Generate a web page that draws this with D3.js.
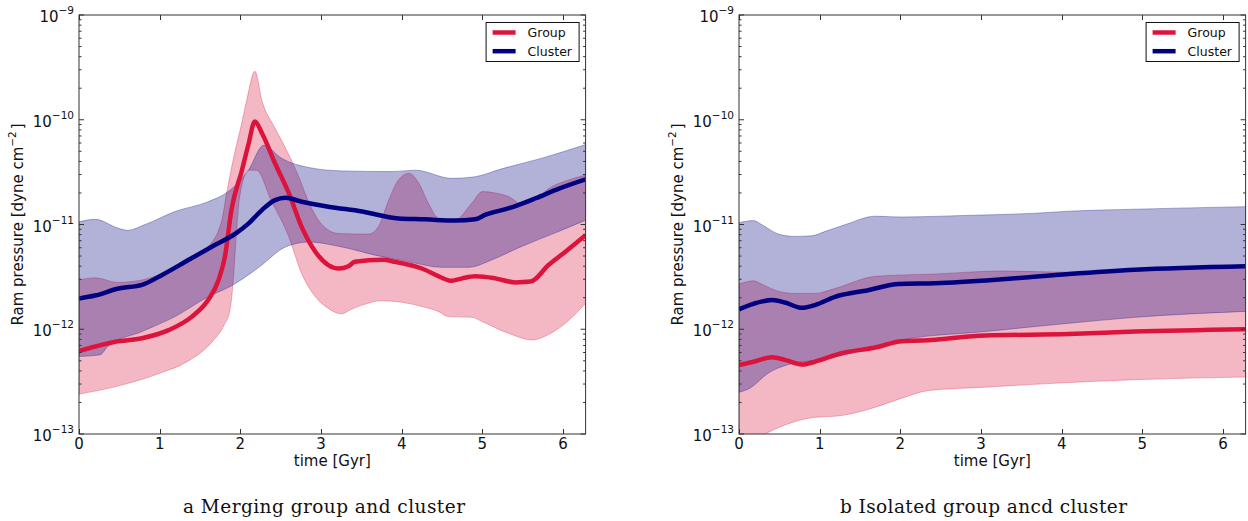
<!DOCTYPE html>
<html>
<head>
<meta charset="utf-8">
<script src="https://cdn.jsdelivr.net/npm/d3@7"></script>
<style>
  html, body { margin: 0; padding: 0; background: #fff; }
  svg { display: block; }
  text { font-family: "DejaVu Sans", sans-serif; fill: #111; }
  .caption { font-family: "DejaVu Serif", serif; }
</style>
</head>
<body>
<svg id="chart" width="1248" height="521"></svg>
<script>
// ---- data: [time in Gyr, ram pressure in dyne cm^-2] ----
// Panel a: merging group and cluster
const mergeGroupMid = [[0,6.2e-13],[0.45,7.6e-13],[0.78,8.2e-13],[1.11,9.8e-13],[1.40,1.32e-12],[1.60,1.9e-12],[1.73,2.95e-12],[1.81,5.0e-12],[1.89,1.38e-11],[2.02,3.3e-11],[2.10,5.8e-11],[2.18,9.6e-11],[2.27,7.4e-11],[2.43,3.84e-11],[2.60,2.0e-11],[2.76,9.5e-12],[2.93,5.5e-12],[3.09,4.1e-12],[3.22,3.8e-12],[3.34,4.0e-12],[3.42,4.4e-12],[3.76,4.6e-12],[3.92,4.4e-12],[4.25,3.8e-12],[4.46,3.2e-12],[4.62,2.9e-12],[4.75,3.06e-12],[4.91,3.2e-12],[5.16,3.06e-12],[5.41,2.8e-12],[5.60,2.85e-12],[5.82,4.1e-12],[6.03,5.5e-12],[6.28,7.9e-12]];
const mergeGroupLo = [[0,2.4e-13],[0.47,2.85e-13],[1.0,3.8e-13],[1.34,4.9e-13],[1.67,7.9e-13],[1.80,1.1e-12],[1.87,1.5e-12],[1.91,2.8e-12],[1.94,6.0e-12],[1.99,1.8e-11],[2.10,3.3e-11],[2.20,3.3e-11],[2.38,1.71e-11],[2.60,7.65e-12],[2.76,3.4e-12],[2.93,2.04e-12],[3.09,1.58e-12],[3.26,1.4e-12],[3.34,1.5e-12],[3.51,1.7e-12],[3.76,1.87e-12],[4.25,1.65e-12],[4.46,1.47e-12],[4.58,1.32e-12],[4.87,1.3e-12],[5.0,1.18e-12],[5.33,9.1e-13],[5.62,7.9e-13],[5.82,8.9e-13],[6.03,1.14e-12],[6.28,1.77e-12]];
const mergeGroupHi = [[0,2.95e-12],[0.2,3.1e-12],[0.48,2.8e-12],[0.78,2.95e-12],[1.03,3.4e-12],[1.4,4.6e-12],[1.6,6.1e-12],[1.77,1.1e-11],[1.83,2.0e-11],[1.91,4.1e-11],[2.02,9.5e-11],[2.08,1.55e-10],[2.18,2.9e-10],[2.27,1.5e-10],[2.42,8.6e-11],[2.58,5.0e-11],[2.72,2.9e-11],[2.87,1.5e-11],[3.01,1.0e-11],[3.22,8.2e-12],[3.59,8.1e-12],[3.71,9.5e-12],[3.84,1.71e-11],[3.96,2.66e-11],[4.09,3.08e-11],[4.21,2.5e-11],[4.33,1.6e-11],[4.46,1.14e-11],[4.66,1.1e-11],[4.87,1.6e-11],[5.0,2.06e-11],[5.16,2.0e-11],[5.33,1.84e-11],[5.5,1.55e-11],[5.65,1.7e-11],[5.82,2.2e-11],[6.07,2.66e-11],[6.28,2.97e-11]];
const mergeClusterMid = [[0,1.97e-12],[0.2,2.1e-12],[0.49,2.45e-12],[0.78,2.65e-12],[1.03,3.3e-12],[1.36,4.6e-12],[1.69,6.4e-12],[1.94,8.2e-12],[2.10,1.02e-11],[2.27,1.38e-11],[2.43,1.71e-11],[2.56,1.8e-11],[2.76,1.65e-11],[3.09,1.48e-11],[3.51,1.33e-11],[3.96,1.14e-11],[4.29,1.12e-11],[4.66,1.09e-11],[4.91,1.12e-11],[5.04,1.24e-11],[5.33,1.43e-11],[5.66,1.78e-11],[5.95,2.2e-11],[6.28,2.7e-11]];
const mergeClusterLo = [[0,5.5e-13],[0.26,5.7e-13],[0.36,6.9e-13],[0.78,9.5e-13],[1.19,1.32e-12],[1.60,2.04e-12],[1.89,2.6e-12],[2.23,3.9e-12],[2.56,6.1e-12],[2.85,6.8e-12],[3.26,6.1e-12],[3.67,5.1e-12],[4.09,4.4e-12],[4.5,3.9e-12],[4.83,3.9e-12],[5.12,4.6e-12],[5.45,6.0e-12],[5.95,8.6e-12],[6.28,1.1e-11]];
const mergeClusterHi = [[0,1.06e-11],[0.2,1.12e-11],[0.49,9.2e-12],[0.6,8.8e-12],[0.82,1.0e-11],[1.19,1.33e-11],[1.60,1.65e-11],[1.85,2.06e-11],[2.10,3.3e-11],[2.29,5.7e-11],[2.51,4.3e-11],[2.85,3.5e-11],[3.26,3.25e-11],[3.88,3.2e-11],[4.17,3.3e-11],[4.62,2.76e-11],[4.91,2.86e-11],[5.24,3.4e-11],[5.74,4.3e-11],[6.28,5.8e-11]];

// Panel b: isolated group and cluster
const isoGroupMid = [[0,4.55e-13],[0.18,4.9e-13],[0.41,5.4e-13],[0.57,5.1e-13],[0.78,4.6e-13],[0.94,4.9e-13],[1.27,5.9e-13],[1.69,6.7e-13],[2.02,7.7e-13],[2.27,7.8e-13],[3.05,8.7e-13],[4.09,9.0e-13],[4.91,9.5e-13],[6.28,1.0e-12]];
const isoGroupLo = [[0,7.5e-14],[0.32,1.0e-13],[0.57,1.22e-13],[0.90,1.43e-13],[1.27,1.5e-13],[1.69,1.8e-13],[2.02,2.2e-13],[2.35,2.6e-13],[3.05,2.8e-13],[4.09,3.1e-13],[4.91,3.3e-13],[6.28,3.5e-13]];
const isoGroupHi = [[0,2.7e-12],[0.18,2.9e-12],[0.28,2.7e-12],[0.49,2.3e-12],[0.69,2.2e-12],[0.94,2.2e-12],[1.19,2.45e-12],[1.69,3.2e-12],[2.43,3.37e-12],[3.26,3.6e-12],[4.09,3.5e-12],[5.0,3.7e-12],[6.28,3.9e-12]];
const isoClusterMid = [[0,1.55e-12],[0.18,1.75e-12],[0.41,1.9e-12],[0.57,1.8e-12],[0.78,1.6e-12],[0.94,1.7e-12],[1.19,2.04e-12],[1.60,2.36e-12],[1.98,2.7e-12],[2.43,2.75e-12],[3.26,3.0e-12],[4.09,3.37e-12],[4.91,3.7e-12],[6.28,4.0e-12]];
const isoClusterLo = [[0,2.5e-13],[0.14,2.75e-13],[0.36,3.8e-13],[0.61,4.6e-13],[0.98,5.1e-13],[1.52,6.2e-13],[2.02,7.9e-13],[3.05,9.5e-13],[4.09,1.14e-12],[4.91,1.3e-12],[6.28,1.48e-12]];
const isoClusterHi = [[0,1.04e-11],[0.18,1.09e-11],[0.28,1.0e-11],[0.49,8.1e-12],[0.69,7.7e-12],[0.90,7.8e-12],[1.07,8.6e-12],[1.32,1.0e-11],[1.69,1.2e-11],[2.02,1.18e-11],[2.8,1.22e-11],[3.67,1.28e-11],[4.09,1.34e-11],[4.91,1.4e-11],[6.28,1.48e-11]];

// ---- axes ----
const xTicks = [0, 1, 2, 3, 4, 5, 6];
const yMajorExp = [-9, -10, -11, -12, -13];
const xDomain = [0, 6.28];
const yDomain = [1e-13, 1e-9];
const seriesNames = ["Group", "Cluster"];
const seriesColors = ["#dc143c", "#000080"];
const captions = ["a Merging group and cluster", "b Isolated group ancd cluster"];

const panels = [
  { left: 79, right: 585.6, caption: captions[0], captionX: 183, captionW: 282,
    group: [mergeGroupLo, mergeGroupHi, mergeGroupMid],
    cluster: [mergeClusterLo, mergeClusterHi, mergeClusterMid] },
  { left: 739, right: 1245.6, caption: captions[1], captionX: 840, captionW: 287,
    group: [isoGroupLo, isoGroupHi, isoGroupMid],
    cluster: [isoClusterLo, isoClusterHi, isoClusterMid] }
];
const plotTop = 15, plotBottom = 434;
const svg = d3.select("#chart");

panels.forEach((p, i) => {
  const x = d3.scaleLinear().domain(xDomain).range([p.left, p.right]);
  const y = d3.scaleLog().domain(yDomain).range([plotBottom, plotTop]);
  const g = svg.append("g");

  const clipId = "clip" + i;
  svg.append("clipPath").attr("id", clipId)
    .append("rect").attr("x", p.left).attr("y", plotTop)
    .attr("width", p.right - p.left).attr("height", plotBottom - plotTop);
  const plot = g.append("g").attr("clip-path", `url(#${clipId})`);

  const line = d3.line().x(d => x(d[0])).y(d => y(d[1])).curve(d3.curveMonotoneX);
  // band outline: upper edge left to right, then lower edge right to left
  const band = (lo, hi) => {
    const up = line(hi);
    const down = line(lo.slice().reverse());
    return up + "L" + down.slice(1) + "Z";
  };

  // shaded ranges: group first, cluster over it
  [p.group, p.cluster].forEach((s, k) => {
    plot.append("path").attr("d", band(s[0], s[1]))
      .attr("fill", seriesColors[k]).attr("fill-opacity", 0.3)
      .attr("stroke", seriesColors[k]).attr("stroke-opacity", 0.3).attr("stroke-width", 1);
  });
  [p.group, p.cluster].forEach((s, k) => {
    plot.append("path").attr("d", line(s[2]))
      .attr("fill", "none").attr("stroke", seriesColors[k])
      .attr("stroke-width", 4.5).attr("stroke-linejoin", "round");
  });

  // frame
  g.append("rect").attr("x", p.left).attr("y", plotTop)
    .attr("width", p.right - p.left).attr("height", plotBottom - plotTop)
    .attr("fill", "none").attr("stroke", "#333").attr("stroke-width", 1);

  // x ticks (bottom and top, inward)
  const tickG = g.append("g").attr("stroke", "#333").attr("stroke-width", 1);
  xTicks.forEach(t => {
    const xx = Math.round(x(t)) + 0.5;
    tickG.append("line").attr("x1", xx).attr("x2", xx).attr("y1", plotBottom).attr("y2", plotBottom - 5);
    tickG.append("line").attr("x1", xx).attr("x2", xx).attr("y1", plotTop).attr("y2", plotTop + 5);
    g.append("text").attr("x", x(t)).attr("y", 449).attr("text-anchor", "middle")
      .attr("font-size", 15).text(t);
  });

  // y ticks, major and minor on both sides
  yMajorExp.forEach(e => {
    const yy = y(Math.pow(10, e));
    tickG.append("line").attr("x1", p.left).attr("x2", p.left + 5).attr("y1", yy).attr("y2", yy);
    tickG.append("line").attr("x1", p.right).attr("x2", p.right - 5).attr("y1", yy).attr("y2", yy);
    const lab = g.append("text").attr("x", p.left - 5).attr("y", yy + 7)
      .attr("text-anchor", "end").attr("font-size", 15);
    lab.append("tspan").text("10");
    lab.append("tspan").attr("dy", -8).attr("font-size", 10.5).text("\u2212" + Math.abs(e));
    if (e > -13) {
      for (let m = 2; m <= 9; m++) {
        const ym = y(m * Math.pow(10, e - 1));
        tickG.append("line").attr("x1", p.left).attr("x2", p.left + 2.5).attr("y1", ym).attr("y2", ym);
        tickG.append("line").attr("x1", p.right).attr("x2", p.right - 2.5).attr("y1", ym).attr("y2", ym);
      }
    }
  });

  // axis labels
  const cx = (p.left + p.right) / 2;
  g.append("text").attr("x", cx).attr("y", 466).attr("text-anchor", "middle")
    .attr("font-size", 15).text("time [Gyr]");
  const yl = g.append("text")
    .attr("transform", `translate(${p.left - 56},${(plotTop + plotBottom) / 2}) rotate(-90)`)
    .attr("text-anchor", "middle").attr("font-size", 15);
  yl.append("tspan").text("Ram pressure [dyne cm");
  yl.append("tspan").attr("dy", -7).attr("font-size", 10.5).text("\u22122");
  yl.append("tspan").attr("dy", 7).attr("dx", 2).text("]");

  // legend
  const lx = p.right - 100, ly = 22;
  g.append("rect").attr("x", lx + 0.5).attr("y", ly + 0.5).attr("width", 93).attr("height", 39)
    .attr("fill", "#fff").attr("stroke", "#111").attr("stroke-width", 1);
  seriesNames.forEach((n, k) => {
    const yy = ly + 10.5 + k * 18.7;
    g.append("line").attr("x1", lx + 7).attr("x2", lx + 30).attr("y1", yy).attr("y2", yy)
      .attr("stroke", seriesColors[k]).attr("stroke-width", 4.5);
    g.append("text").attr("x", lx + 42).attr("y", yy + 4.5).attr("font-size", 12.5).text(n);
  });

  // caption
  svg.append("text").attr("class", "caption").attr("x", p.captionX).attr("y", 513)
    .attr("font-size", 18.5).attr("textLength", p.captionW).attr("lengthAdjust", "spacing")
    .text(p.caption);
});
</script>
</body>
</html>
